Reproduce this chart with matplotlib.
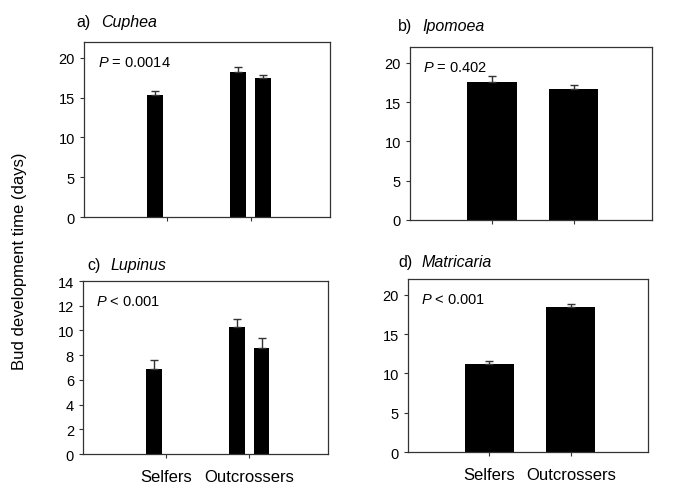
import numpy as np
import matplotlib.pyplot as plt

plt.rcParams['font.family'] = ['Liberation Sans', 'DejaVu Sans']
plt.rcParams['mathtext.fontset'] = 'custom'
plt.rcParams['mathtext.it'] = 'Liberation Sans:italic'
plt.rcParams['mathtext.rm'] = 'Liberation Sans'

categories = ["Selfers", "Outcrossers"]

# a) Cuphea: two bars per category (second selfer bar is zero)
cuphea_s1 = [15.3, 18.2]
cuphea_s1_err = [0.6, 0.7]
cuphea_s2 = [0.0, 17.5]
cuphea_s2_err = [0.0, 0.35]

# b) Ipomoea
ipomoea = [17.6, 16.65]
ipomoea_err = [0.75, 0.5]

# c) Lupinus
lupinus_s1 = [6.88, 10.3]
lupinus_s1_err = [0.72, 0.6]
lupinus_s2 = [0.0, 8.55]
lupinus_s2_err = [0.0, 0.8]

# d) Matricaria
matricaria = [11.18, 18.4]
matricaria_err = [0.38, 0.4]

p_texts = ["= 0.0014", "= 0.402", "< 0.001", "< 0.001"]

fig = plt.figure(figsize=(6.85, 5.02), dpi=100)
ax_a = fig.add_axes([0.1226, 0.5657, 0.359, 0.3486])
ax_b = fig.add_axes([0.5985, 0.5598, 0.353, 0.3446])
ax_c = fig.add_axes([0.1212, 0.0936, 0.3577, 0.3446])
ax_d = fig.add_axes([0.5956, 0.0976, 0.3504, 0.3446])

x = np.array([1, 2])
ekw = dict(fmt='none', ecolor='#333333', elinewidth=1, capsize=3, capthick=1)


def draw_pair(ax, v1, e1, v2, e2):
    w, off = 0.19, 0.15
    ax.bar(x - off, v1, w, color='black')
    ax.errorbar(x - off, v1, yerr=[np.zeros(2), e1], **ekw)
    ax.bar(x + off, v2, w, color='black')
    # only the outcrosser bar has a second value
    ax.errorbar(x[1:] + off, v2[1:], yerr=[[0], e2[1:]], **ekw)


def draw_single(ax, v, e):
    ax.bar(x, v, 0.6, color='black')
    ax.errorbar(x, v, yerr=[np.zeros(2), e], **ekw)


draw_pair(ax_a, cuphea_s1, cuphea_s1_err, cuphea_s2, cuphea_s2_err)
draw_single(ax_b, ipomoea, ipomoea_err)
draw_pair(ax_c, lupinus_s1, lupinus_s1_err, lupinus_s2, lupinus_s2_err)
draw_single(ax_d, matricaria, matricaria_err)

for ax in [ax_a, ax_b, ax_d]:
    ax.set_ylim(0, 22)
    ax.set_yticks([0, 5, 10, 15, 20])
ax_c.set_ylim(0, 14)
ax_c.set_yticks(range(0, 15, 2))

for ax, p in zip([ax_a, ax_b, ax_c, ax_d], p_texts):
    ax.set_xlim(0, 2.95)
    ax.set_xticks(x)
    ax.tick_params(axis='both', direction='out', length=3, width=0.8,
                   colors='#333333', labelcolor='black', labelsize=10.5)
    for s in ax.spines.values():
        s.set_color('#333333')
        s.set_linewidth(0.9)
    ax.text(0.055, 0.885, r'$\it{P}$ ' + p, transform=ax.transAxes,
            fontsize=10.5, va='center', ha='left')

for ax in [ax_a, ax_b]:
    ax.set_xticklabels([])
for ax in [ax_c, ax_d]:
    ax.set_xticklabels(categories, fontsize=12)
    ax.tick_params(axis='x', pad=8)

titles = [("a)", "Cuphea", 0.112, 0.955), ("b)", "Ipomoea", 0.581, 0.947),
          ("c)", "Lupinus", 0.127, 0.472), ("d)", "Matricaria", 0.581, 0.478)]
for lab, name, tx, ty in titles:
    fig.text(tx, ty, lab, fontsize=11.5, va='center', ha='left')
    fig.text(tx + 0.035, ty, name, fontsize=11.5, style='italic', va='center', ha='left')

fig.text(0.028, 0.48, 'Bud development time (days)', rotation=90,
         fontsize=12, va='center', ha='center')

fig.savefig('out.png', dpi=100)
